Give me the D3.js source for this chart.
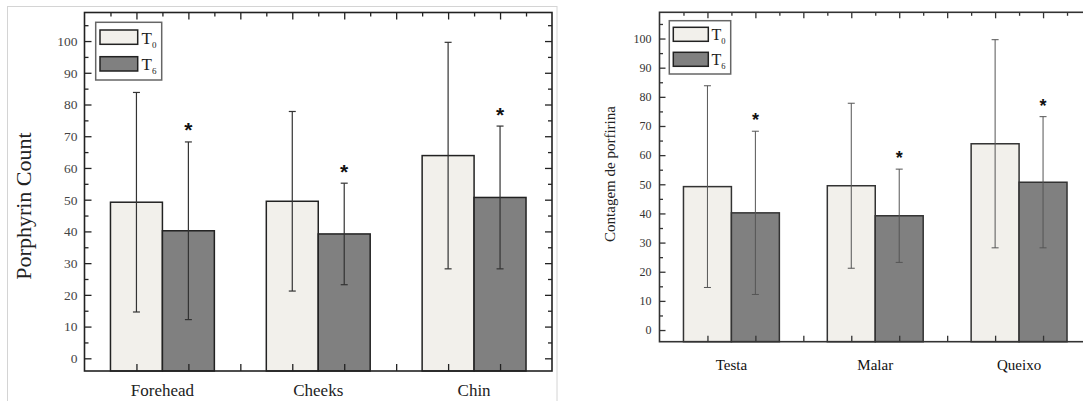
<!DOCTYPE html>
<html>
<head>
<meta charset="utf-8">
<script src="https://cdn.jsdelivr.net/npm/d3@7"></script>
<style>
  html, body { margin: 0; padding: 0; background: #fff; }
  svg { display: block; }
  .serif { font-family: 'Liberation Serif', 'DejaVu Serif', serif; }
</style>
</head>
<body>
<script>
// ---------------- DATA ----------------
const categoriesEN = ["Forehead", "Cheeks", "Chin"];
const categoriesPT = ["Testa", "Malar", "Queixo"];
const seriesKeys = ["T0", "T6"];
const seriesSubs = ["0", "6"];
const meanT0 = [49.2, 49.5, 63.9];
const meanT6 = [40.2, 39.2, 50.7];
const sdT0 = [34.6, 28.3, 35.7];
const sdT6 = [28.0, 16.0, 22.5];
const starT6 = [true, true, true];
const yMajorTicks = [0, 10, 20, 30, 40, 50, 60, 70, 80, 90, 100];
const yMinorTicks = [5, 15, 25, 35, 45, 55, 65, 75, 85, 95, 105];
const yTitleEN = "Porphyrin Count";
const yTitlePT = "Contagem de porfirina";

const W = 1083, H = 401;
const svg = d3.select("body").append("svg").attr("width", W).attr("height", H);
const SERIF = "'Liberation Serif', 'DejaVu Serif', serif";

// light frame of the left picture
svg.append("rect").attr("x", 7.5).attr("y", 6.5).attr("width", 549.5).attr("height", 400)
  .attr("fill", "none").attr("stroke", "#d4d4d4").attr("stroke-width", 1);

const fill = { T0: "#f2f0eb", T6: "#808080" };

function drawPanel(cfg) {
  const g = svg.append("g");
  const { x0, x1, y0, y1 } = cfg.frame;
  const y = d3.scaleLinear().domain([-4, 109]).range([y1, y0]);
  const xu = d3.scaleLinear().domain([0, 9]).range([x0, x1]);
  const xb = d3.scaleBand().domain(cfg.categories).range([x0, x1])
    .paddingInner(1 / 3).paddingOuter(1 / 6);
  const xs = d3.scaleBand().domain(seriesKeys).range([0, xb.bandwidth()]);

  const rows = cfg.categories.map((c, i) => ({
    cat: c,
    vals: [
      { key: "T0", mean: meanT0[i], sd: sdT0[i], star: false },
      { key: "T6", mean: meanT6[i], sd: sdT6[i], star: starT6[i] }
    ]
  }));

  const grp = g.selectAll("g.grp").data(rows).join("g")
    .attr("transform", d => `translate(${xb(d.cat)},0)`);
  grp.selectAll("rect").data(d => d.vals).join("rect")
    .attr("x", d => xs(d.key))
    .attr("y", d => y(d.mean))
    .attr("width", xs.bandwidth())
    .attr("height", d => y(-4) - y(d.mean))
    .attr("fill", d => fill[d.key])
    .attr("stroke", cfg.barStroke).attr("stroke-width", 1.5);

  const eb = grp.selectAll("g.eb").data(d => d.vals).join("g")
    .attr("transform", d => `translate(${xs(d.key) + xs.bandwidth() / 2},0)`)
    .attr("stroke", cfg.errColor).attr("stroke-width", cfg.errWidth);
  eb.append("line").attr("x1", 0).attr("x2", 0)
    .attr("y1", d => y(d.mean - d.sd)).attr("y2", d => y(d.mean + d.sd));
  eb.append("line").attr("x1", -cfg.cap).attr("x2", cfg.cap)
    .attr("y1", d => y(d.mean + d.sd)).attr("y2", d => y(d.mean + d.sd));
  eb.append("line").attr("x1", -cfg.cap).attr("x2", cfg.cap)
    .attr("y1", d => y(d.mean - d.sd)).attr("y2", d => y(d.mean - d.sd));

  grp.selectAll("text.star").data(d => d.vals.filter(v => v.star)).join("text")
    .attr("class", "star")
    .attr("x", d => xs(d.key) + xs.bandwidth() / 2)
    .attr("y", d => y(d.mean + d.sd) - cfg.starGap)
    .attr("text-anchor", "middle")
    .style("font-family", "'Liberation Sans', Arial, sans-serif")
    .style("font-weight", "bold")
    .style("font-size", cfg.starSize + "px")
    .attr("fill", "#111")
    .text("*");

  const styleAxis = (sel) => {
    sel.attr("font-family", null);
    sel.select(".domain").remove();
    sel.selectAll(".tick line").attr("stroke", cfg.axisColor).attr("stroke-width", 1.3);
    sel.selectAll(".tick text")
      .style("font-family", SERIF)
      .style("font-size", cfg.tickFont + "px").attr("fill", cfg.tickColor);
  };
  const majorsX = d3.range(1, 9);
  const minorsX = d3.range(0.5, 9, 1);
  g.append("g").attr("transform", `translate(${x0},0)`)
    .call(d3.axisLeft(y).tickValues(yMajorTicks).tickSize(-cfg.major).tickPadding(cfg.tickPad)).call(styleAxis);
  g.append("g").attr("transform", `translate(${x0},0)`)
    .call(d3.axisLeft(y).tickValues(yMinorTicks).tickSize(-cfg.minor).tickFormat("")).call(styleAxis);
  g.append("g").attr("transform", `translate(${x1},0)`)
    .call(d3.axisRight(y).tickValues(yMajorTicks).tickSize(-cfg.major).tickFormat("")).call(styleAxis);
  g.append("g").attr("transform", `translate(${x1},0)`)
    .call(d3.axisRight(y).tickValues(yMinorTicks).tickSize(-cfg.minor).tickFormat("")).call(styleAxis);
  g.append("g").attr("transform", `translate(0,${y0})`)
    .call(d3.axisTop(xu).tickValues(majorsX).tickSize(-cfg.major).tickFormat("")).call(styleAxis);
  g.append("g").attr("transform", `translate(0,${y0})`)
    .call(d3.axisTop(xu).tickValues(minorsX).tickSize(-cfg.minor).tickFormat("")).call(styleAxis);
  g.append("g").attr("transform", `translate(0,${y1})`)
    .call(d3.axisBottom(xu).tickValues(majorsX).tickSize(-cfg.major).tickFormat("")).call(styleAxis);

  g.append("rect").attr("x", x0).attr("y", y0).attr("width", x1 - x0).attr("height", y1 - y0)
    .attr("fill", "none").attr("stroke", cfg.axisColor).attr("stroke-width", 1.6);

  g.selectAll("text.cat").data(cfg.categories).join("text")
    .attr("class", "cat")
    .attr("x", d => xb(d) + xb.bandwidth() / 2)
    .attr("y", cfg.catY)
    .attr("text-anchor", "middle")
    .style("font-family", SERIF)
    .style("font-size", cfg.catFont + "px")
    .attr("fill", cfg.catColor)
    .text(d => d);

  g.append("text")
    .attr("transform", `translate(${cfg.titleX},${cfg.titleY}) rotate(-90)`)
    .attr("text-anchor", "middle")
    .style("font-family", SERIF)
    .style("font-size", cfg.titleFont + "px")
    .attr("fill", "#222")
    .text(cfg.title);

  const L = cfg.legend;
  g.append("rect").attr("x", L.x).attr("y", L.y).attr("width", L.w).attr("height", L.h)
    .attr("fill", "#fff").attr("stroke", "#666").attr("stroke-width", 1.5);
  seriesKeys.forEach((k, i) => {
    g.append("rect").attr("x", L.sx).attr("y", L.sy[i]).attr("width", L.sw).attr("height", L.sh)
      .attr("fill", fill[k]).attr("stroke", "#222").attr("stroke-width", 1.5);
    const t = g.append("text").attr("x", L.tx).attr("y", L.ty[i])
      .style("font-family", SERIF).style("font-size", L.font + "px").attr("fill", "#222");
    t.append("tspan").text("T");
    t.append("tspan").attr("dy", L.subDy).style("font-size", L.subFont + "px").text(seriesSubs[i]);
  });
}

drawPanel({
  categories: categoriesEN, title: yTitleEN,
  frame: { x0: 84.5, x1: 552, y0: 12.5, y1: 371 },
  barStroke: "#222", axisColor: "#222", errColor: "#333", errWidth: 1.2, cap: 3.5,
  starGap: 4.5, starSize: 21,
  major: 7, minor: 4, tickPad: 7, tickFont: 13.5, tickColor: "#444",
  catY: 396, catFont: 17, catColor: "#222",
  titleX: 31, titleY: 206, titleFont: 22,
  legend: { x: 95.7, y: 22.3, w: 66, h: 57.7, sx: 100, sw: 37.7, sh: 14.3, sy: [30, 56.7],
            tx: 141.5, ty: [43.5, 70], font: 17, subFont: 9, subDy: 4 }
});

drawPanel({
  categories: categoriesPT, title: yTitlePT,
  frame: { x0: 659.5, x1: 1091, y0: 12.3, y1: 341.7 },
  barStroke: "#333", axisColor: "#333", errColor: "#555", errWidth: 1, cap: 3.5,
  starGap: 5, starSize: 18,
  major: 6, minor: 3.5, tickPad: 8, tickFont: 12, tickColor: "#333",
  catY: 370, catFont: 15, catColor: "#111",
  titleX: 615, titleY: 174, titleFont: 15,
  legend: { x: 669.3, y: 20.7, w: 61.4, h: 53.3, sx: 673.3, sw: 35, sh: 14, sy: [27.3, 52.3],
            tx: 711.5, ty: [39.5, 65], font: 16, subFont: 8.5, subDy: 4 }
});
</script>
</body>
</html>
